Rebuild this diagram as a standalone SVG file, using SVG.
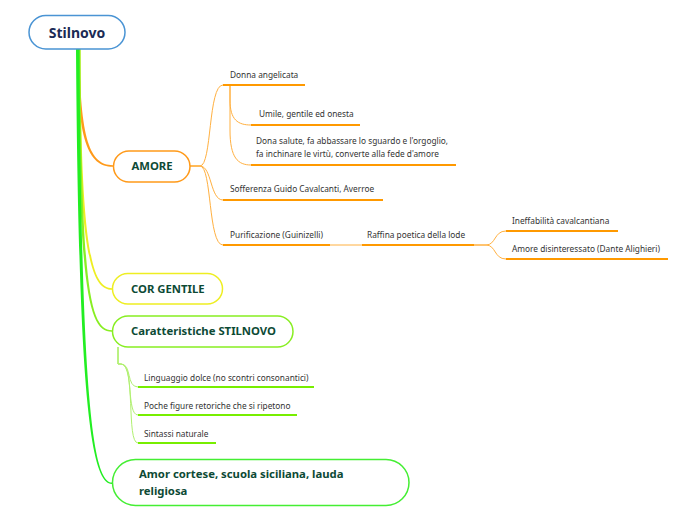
<svg xmlns="http://www.w3.org/2000/svg" width="696" height="520" viewBox="0 0 696 520">
<style>
.big{font-family:"Noto Sans","Open Sans","Liberation Sans",sans-serif;font-weight:bold;fill:#0d4a35;font-size:11.3px}
.sm{font-family:"Noto Sans","Open Sans","Liberation Sans",sans-serif;fill:#333;font-size:8.3px}
.oc{fill:none;stroke:#ffb040;stroke-width:1}
.ou{fill:none;stroke:#ff9900;stroke-width:2}
.gc{fill:none;stroke:#b0f070;stroke-width:1}
.gu{fill:none;stroke:#77ee00;stroke-width:2}
</style>
<rect width="696" height="520" fill="#fff"/>
<g id="connectors">
<path d="M77,49 C77,140 88,166.8 113,166.8 L113,165.2 C90,165 80,140 79.5,49 Z" fill="#ff9a1a"/>
<path d="M77.5,49 C79,250 90,289.8 112,289.8 L112,288.2 C92,288 81,250 80.5,49 Z" fill="#eeee22"/>
<path d="M77.5,49 C79,290 88,331.8 112,331.8 L112,330.2 C90,330 81.5,290 80.5,49 Z" fill="#88ee22"/>
<path d="M76,49 C78.5,390 90,484 112,484 L112,482.6 C92,482 81.5,390 79.5,49 Z" fill="#22ee22"/>
<path class="oc" d="M190,166 L200,166 C212,166 208,85 223,85"/>
<path class="oc" d="M190,166 L200,166 C212,166 210,200 223,200"/>
<path class="oc" d="M190,166 L200,166 C212,166 208,245 223,245"/>
<path class="oc" d="M230,85 L230,100 C230,120 238,125 251,125"/>
<path class="oc" d="M230,85 L230,130 C230,158 238,165 251,165"/>
<path class="oc" d="M330,245 L362,245"/>
<path class="oc" d="M474,245 L486,245 C496,245 494,231 506,231"/>
<path class="oc" d="M474,245 L486,245 C496,245 494,259 506,259"/>
<path class="gc" d="M118,347 L118,364 L121,364 C132,364 126,387 138,387"/>
<path class="gc" d="M118,347 L118,364 L121,364 C134,364 126,415 138,415"/>
<path class="gc" d="M118,347 L118,364 L121,364 C136,364 126,443 138,443"/>
</g>
<g id="root">
<rect x="29" y="15.5" width="96" height="33.5" rx="16.75" fill="#fff" stroke="#4a94d4" stroke-width="1.5"/>
<text x="77" y="38" text-anchor="middle" font-family="Noto Sans,Open Sans,Liberation Sans,sans-serif" font-weight="bold" font-size="14" fill="#1b2b55">Stilnovo</text>
</g>
<g id="amore">
<rect x="113.5" y="151" width="76.5" height="31" rx="15.5" fill="#fff" stroke="#ff9a1a" stroke-width="1.5"/>
<text class="big" x="152" y="170" text-anchor="middle">AMORE</text>
</g>
<g id="donna">
<text class="sm" x="230" y="78">Donna angelicata</text>
<line class="ou" x1="223" y1="85" x2="305" y2="85"/>
</g>
<g id="umile">
<text class="sm" x="259" y="117">Umile, gentile ed onesta</text>
<line class="ou" x1="251" y1="125" x2="360" y2="125"/>
</g>
<g id="dona-salute">
<text class="sm" x="256" y="144">Dona salute, fa abbassare lo sguardo e l'orgoglio,</text>
<text class="sm" x="256" y="157">fa inchinare le virtù, converte alla fede d'amore</text>
<line class="ou" x1="251" y1="165" x2="456" y2="165"/>
</g>
<g id="sofferenza">
<text class="sm" x="230" y="192">Sofferenza Guido Cavalcanti, Averroe</text>
<line class="ou" x1="223" y1="200" x2="383" y2="200"/>
</g>
<g id="purificazione">
<text class="sm" x="230" y="238">Purificazione (Guinizelli)</text>
<line class="ou" x1="223" y1="245" x2="330" y2="245"/>
</g>
<g id="raffina">
<text class="sm" x="367" y="238">Raffina poetica della lode</text>
<line class="ou" x1="362" y1="245" x2="474" y2="245"/>
</g>
<g id="ineffabilita">
<text class="sm" x="512" y="224">Ineffabilità cavalcantiana</text>
<line class="ou" x1="506" y1="231" x2="618" y2="231"/>
</g>
<g id="amore-disinteressato">
<text class="sm" x="512" y="252">Amore disinteressato (Dante Alighieri)</text>
<line class="ou" x1="506" y1="259" x2="668" y2="259"/>
</g>
<g id="cor-gentile">
<rect x="112.5" y="273.5" width="110" height="30.5" rx="15.25" fill="#fff" stroke="#eeee22" stroke-width="1.5"/>
<text class="big" x="131" y="293">COR GENTILE</text>
</g>
<g id="caratteristiche">
<rect x="112.5" y="316" width="180.5" height="31" rx="15.5" fill="#fff" stroke="#88ee22" stroke-width="1.5"/>
<text class="big" x="131" y="335">Caratteristiche STILNOVO</text>
</g>
<g id="linguaggio">
<text class="sm" x="144" y="381">Linguaggio dolce (no scontri consonantici)</text>
<line class="gu" x1="138" y1="387" x2="314" y2="387"/>
</g>
<g id="poche">
<text class="sm" x="144" y="409">Poche figure retoriche che si ripetono</text>
<line class="gu" x1="138" y1="415" x2="297" y2="415"/>
</g>
<g id="sintassi">
<text class="sm" x="144" y="437">Sintassi naturale</text>
<line class="gu" x1="138" y1="443" x2="216" y2="443"/>
</g>
<g id="amor-cortese">
<rect x="112.5" y="459.5" width="296.5" height="46" rx="23" fill="#fff" stroke="#44ee33" stroke-width="1.5"/>
<text class="big" x="139" y="478">Amor cortese, scuola siciliana, lauda</text>
<text class="big" x="139" y="495">religiosa</text>
</g>
</svg>
